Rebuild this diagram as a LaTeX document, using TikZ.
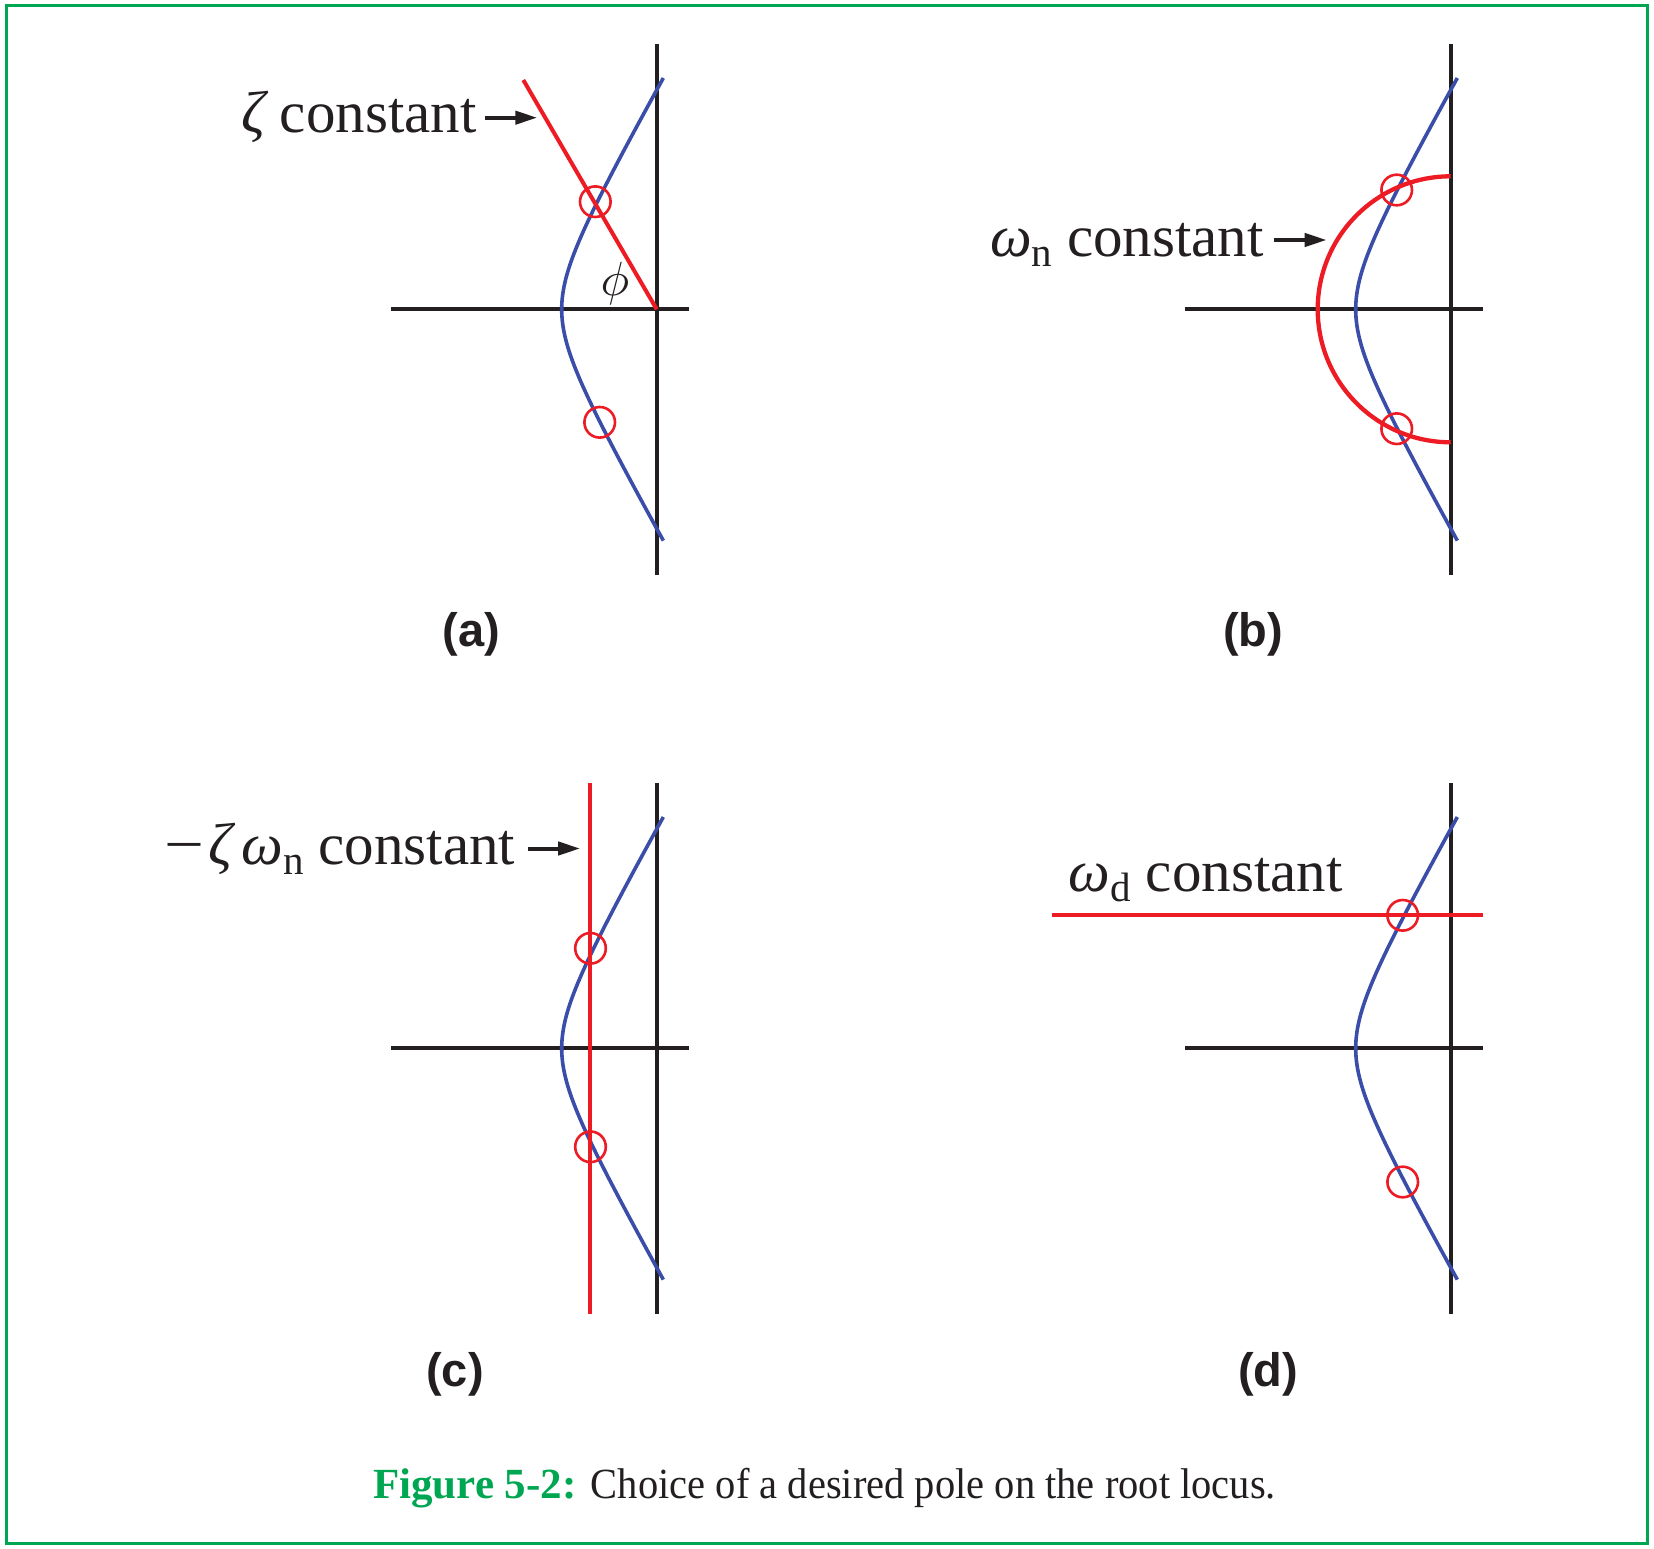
\documentclass[tikz,border=0pt]{standalone}
\usepackage{fontspec}
\setmainfont{Liberation Serif}
\setsansfont{Liberation Sans}
\usetikzlibrary{arrows.meta}
\definecolor{ink}{HTML}{231F20}
\definecolor{lred}{HTML}{ED1C24}
\definecolor{lblue}{HTML}{3A4DA8}
\definecolor{fgreen}{HTML}{00A651}
\newcommand{\lblfont}{\fontsize{59}{64}\selectfont}
\newcommand{\mysub}[1]{\raisebox{-10pt}{\fontsize{41}{44}\selectfont #1}}
\begin{document}
\begin{tikzpicture}[x=1pt,y=-1pt,
  axisln/.style={draw=ink,line width=4pt},
  locus/.style={draw=lblue,line width=3.6pt},
  constr/.style={draw=lred,line width=4pt},
  marker/.style={draw=lred,line width=2.6pt},
  pointer/.style={draw=ink,line width=4pt,-{Triangle[length=22pt,width=13pt]}},
  lbl/.style={inner sep=0pt,text=ink,font=\lblfont},
  sublbl/.style={inner sep=0pt,text=ink,font=\fontsize{47}{52}\selectfont\sffamily\bfseries},
  hyper/.style={domain=-231.3:231.3,samples=150,variable=\t,smooth}]
\useasboundingbox (0,0) rectangle (1654,1549);
\draw[fgreen,line width=3pt] (6,6) rectangle (1647.5,1543.5);

% ---------- panel (a)
\begin{scope}[shift={(656.7,309.3)}]
  \draw[axisln] (-265.5,0) -- (32.5,0);
  \draw[axisln] (0,-265.3) -- (0,265.7);
  \draw[locus] plot[hyper] ({-130+35*sqrt(1+(\t/61.3)^2)},{\t});
  \draw[constr] (-133.4,-229.3) -- (0,0);
  \draw[marker] (-61.4,-107.6) circle[radius=15.3];
  \draw[marker] (-57,113) circle[radius=15.3];
  \node[inner sep=0pt,text=ink,font=\fontsize{10}{12}\selectfont] (phi) at (-41.7,-26) {\scalebox{4.8}{$\phi$}};
\end{scope}
\node[lbl,anchor=base east] (la) at (476.7,132.7) {{\itshape ζ} constant};
\coordinate (a1) at (485,117.7);
\coordinate (a2) at (537.3,117.7);
\draw[pointer] (a1) -- (a2);
\node[sublbl] (ta) at (471.7,634.8) {(a)};

% ---------- panel (b)
\begin{scope}[shift={(1450.7,309.3)}]
  \draw[axisln] (-265.5,0) -- (32.5,0);
  \draw[axisln] (0,-265.3) -- (0,265.7);
  \draw[locus] plot[hyper] ({-130+35*sqrt(1+(\t/61.3)^2)},{\t});
  \draw[constr,line width=4.3pt] (0,-133) arc[start angle=270,end angle=90,radius=133];
  \draw[marker] (-54,-119.3) circle[radius=15.3];
  \draw[marker] (-54,119.4) circle[radius=15.3];
\end{scope}
\node[lbl,anchor=base east] (lb) at (1264,256) {{\itshape ω}\mysub{n} constant};
\coordinate (b1) at (1274,240);
\coordinate (b2) at (1326.7,240);
\draw[pointer] (b1) -- (b2);
\node[sublbl] (tb) at (1253,634.8) {(b)};

% ---------- panel (c)
\begin{scope}[shift={(656.7,1048.3)}]
  \draw[axisln] (-265.5,0) -- (32.5,0);
  \draw[axisln] (0,-265.3) -- (0,265.7);
  \draw[locus] plot[hyper] ({-130+35*sqrt(1+(\t/61.3)^2)},{\t});
  \draw[constr,line width=3.6pt] (-66.7,-265.3) -- (-66.7,265.7);
  \draw[marker] (-66.2,-100) circle[radius=15.3];
  \draw[marker] (-66.2,98.5) circle[radius=15.3];
\end{scope}
\node[lbl,anchor=base east] (lc) at (515.5,864.7) {\scalebox{1.2}[1]{−}\hspace{4pt}{\itshape ζ}\hspace{9pt}{\itshape ω}\mysub{n} constant};
\coordinate (c1) at (527.5,848.5);
\coordinate (c2) at (580.2,848.5);
\draw[pointer] (c1) -- (c2);
\node[sublbl] (tc) at (455,1374) {(c)};

% ---------- panel (d)
\begin{scope}[shift={(1450.7,1048.3)}]
  \draw[axisln] (-265.5,0) -- (32.5,0);
  \draw[axisln] (0,-265.3) -- (0,265.7);
  \draw[locus] plot[hyper] ({-130+35*sqrt(1+(\t/61.3)^2)},{\t});
  \draw[constr] (-399,-133) -- (32.5,-133);
  \draw[marker] (-48,-133) circle[radius=15.3];
  \draw[marker] (-48,133.7) circle[radius=15.3];
\end{scope}
\node[lbl,anchor=base east] (ld) at (1342.7,891.7) {{\itshape ω}\mysub{d} constant};
\node[sublbl] (td) at (1268,1374) {(d)};

% ---------- caption
\node[inner sep=0pt,anchor=base west,text=ink,font=\fontsize{43}{48}\selectfont] (cap) at (373,1498.3)
  {{\color{fgreen}\bfseries Figure 5-2:} \scalebox{0.942}[1]{Choice of a desired pole on the root locus.}};
\end{tikzpicture}
\end{document}
